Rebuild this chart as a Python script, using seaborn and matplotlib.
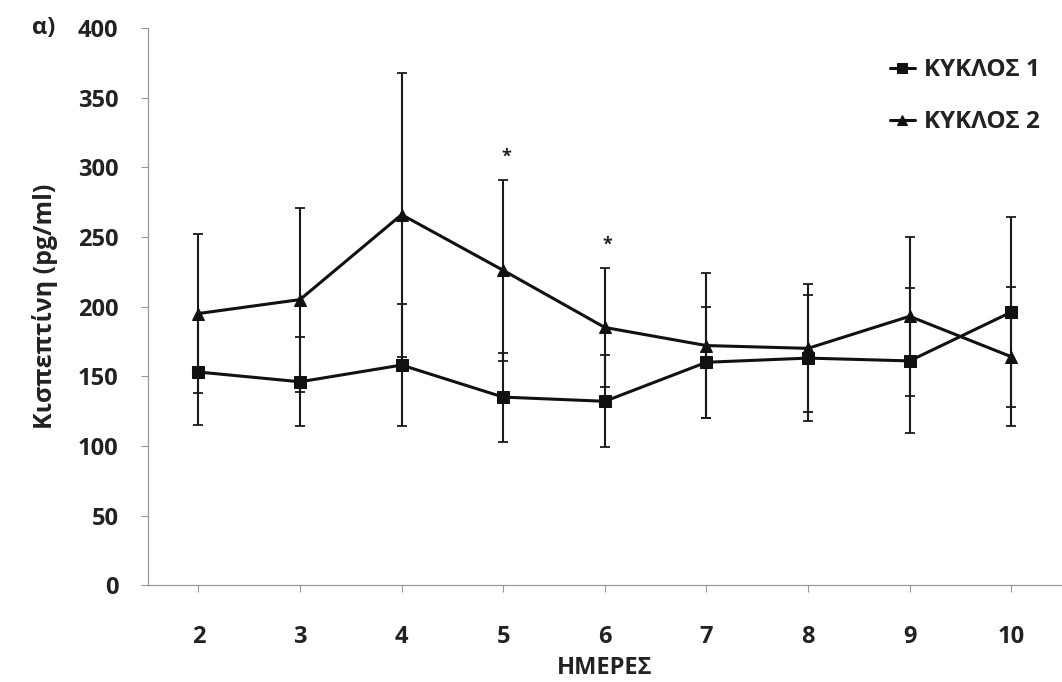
import matplotlib
matplotlib.use("Agg")
import matplotlib.pyplot as plt
import seaborn as sns
import pandas as pd

# Kisspeptin concentration per day of the two cycles (mean and SD)
days = [2, 3, 4, 5, 6, 7, 8, 9, 10]
cycle1_mean = [153, 146, 158, 135, 132, 160, 163, 161, 196]
cycle1_sd = [38, 32, 44, 32, 33, 40, 45, 52, 68]
cycle2_mean = [195, 205, 266, 226, 185, 172, 170, 193, 164]
cycle2_sd = [57, 66, 102, 65, 43, 52, 46, 57, 50]
series_names = ["ΚΥΚΛΟΣ 1", "ΚΥΚΛΟΣ 2"]
significant_days = [5, 6]
y_ticks = [0, 50, 100, 150, 200, 250, 300, 350, 400]

sns.set_theme(style="white")
plt.rcParams["font.family"] = ["Open Sans", "DejaVu Sans"]

df = pd.DataFrame({
    "day": days * 2,
    "value": cycle1_mean + cycle2_mean,
    "cycle": [series_names[0]] * len(days) + [series_names[1]] * len(days),
})

fig = plt.figure(figsize=(10.62, 6.82), dpi=100)
ax = fig.add_axes([0.139, 0.142, 0.861, 0.817])

# error bars first so lines and markers sit on top
for mean, sd in [(cycle1_mean, cycle1_sd), (cycle2_mean, cycle2_sd)]:
    ax.errorbar(days, mean, yerr=sd, fmt="none", ecolor="#1a1a1a",
                elinewidth=1.5, capsize=3.5, capthick=1.3, zorder=2)

sns.lineplot(data=df, x="day", y="value", style="cycle", markers=["s", "^"],
             dashes=False, color="#111111", linewidth=2.2, ax=ax,
             markersize=8.5, markeredgecolor="#111111", zorder=3)

# significance marks above the cycle 2 error bars
means2 = dict(zip(days, cycle2_mean))
sds2 = dict(zip(days, cycle2_sd))
for d in significant_days:
    ax.annotate("*", xy=(d, means2[d] + sds2[d]), xytext=(2, 10),
                textcoords="offset points", ha="center", va="bottom",
                fontsize=13, fontweight="bold", color="#222222")

ax.set_xlim(1.5, 10.5)
ax.set_ylim(0, 400)
ax.set_xticks(days)
ax.set_xticklabels([str(d) for d in days])
ax.set_yticks(y_ticks)
ax.tick_params(axis="both", which="both", direction="out", length=5,
               width=0.8, color="#999999", labelsize=17, labelcolor="#222222",
               bottom=True, left=True)
for lab in ax.get_xticklabels() + ax.get_yticklabels():
    lab.set_fontweight("bold")
ax.tick_params(axis="x", pad=24)
ax.tick_params(axis="y", pad=16)

for side in ["top", "right"]:
    ax.spines[side].set_visible(False)
for side in ["left", "bottom"]:
    ax.spines[side].set_color("#999999")
    ax.spines[side].set_linewidth(0.9)

ax.set_xlabel("ΗΜΕΡΕΣ", fontsize=17, fontweight="bold", color="#222222", labelpad=5)
ax.set_ylabel("Κισπεπτίνη (pg/ml)", fontsize=18, fontweight="bold",
              color="#222222", labelpad=14)

leg = ax.legend(loc="upper right", bbox_to_anchor=(1.0, 0.985), frameon=False,
                handlelength=1.0, handletextpad=0.4, labelspacing=1.15,
                markerscale=0.8, prop={"size": 17.5, "weight": "bold"})
for t in leg.get_texts():
    t.set_color("#222222")

fig.text(0.03, 0.95, "α)", fontsize=17, fontweight="bold", color="#222222")

fig.savefig("out.png", dpi=100, facecolor="white")
